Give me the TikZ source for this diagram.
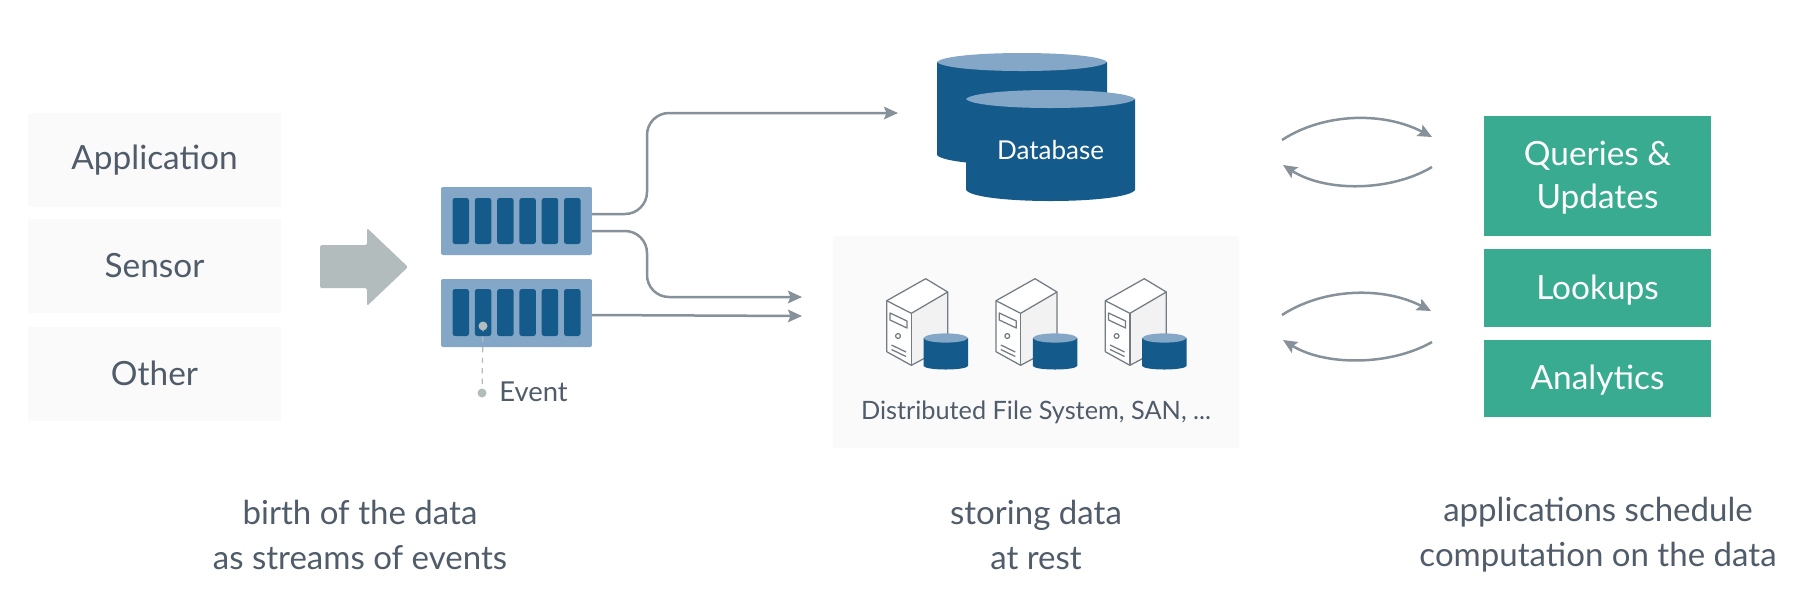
\documentclass[tikz,border=0pt]{standalone}
\usepackage{fontspec}
\setmainfont{Lato}
\usetikzlibrary{arrows.meta,calc}
\definecolor{paneltint}{HTML}{FAFAFB}
\definecolor{inktext}{HTML}{505C69}
\definecolor{dbdark}{HTML}{145B8B}
\definecolor{dblight}{HTML}{84A7C8}
\definecolor{fatgrey}{HTML}{B3BCBC}
\definecolor{flowgrey}{HTML}{87919A}
\definecolor{appgreen}{HTML}{38AB90}
\tikzset{
	srcbox/.style={fill=paneltint,inner sep=0pt,minimum width=5.06cm,minimum height=1.88cm,text=inktext,font=\fontsize{19}{23}\selectfont},
	logbox/.style={fill=dblight,rounded corners=.04cm,inner sep=0pt,minimum width=3.02cm,minimum height=1.36cm},
	slotbar/.style={fill=dbdark,rounded corners=.05cm},
	flow/.style={draw=flowgrey,line width=.05cm,-{Stealth[length=.28cm,width=.25cm,inset=.05cm]}},
	appbox/.style={fill=appgreen,inner sep=0pt,minimum width=4.54cm,text=white,align=center,font=\fontsize{19}{24.5}\selectfont},
	caption/.style={text=inktext,align=center,font=\fontsize{18.8}{25.5}\selectfont},
	towerline/.style={draw=flowgrey!85!black,line width=.025cm,line join=round}
}
\newcommand{\lowered}[1]{\raisebox{-1pt}[\height][\depth]{#1}}
% x1, x2, y of the top, y of the side ends, y of the lowest point
\newcommand{\drumshape}[5]{%
	\pgfmathsetmacro{\xa}{#1+(#2-#1)*.06}
	\pgfmathsetmacro{\xb}{#2-(#2-#1)*.06}
	\pgfmathsetmacro{\ry}{(#5-#4)*4/3}
	\pgfmathsetmacro{\yl}{#4+\ry}
	\fill[dbdark] (#1,#3) -- (#1,#4) .. controls (\xa,\yl) and (\xb,\yl) .. (#2,#4) -- (#2,#3) -- cycle;
}
\newcommand{\drumlid}[4]{% x1, x2, y of the lid, half height of the lid
	\pgfmathsetmacro{\xa}{#1+(#2-#1)*.06}
	\pgfmathsetmacro{\xb}{#2-(#2-#1)*.06}
	\pgfmathsetmacro{\yu}{#3-#4*4/3}
	\pgfmathsetmacro{\yd}{#3+#4*4/3}
	\fill[dblight] (#1,#3) .. controls (\xa,\yu) and (\xb,\yu) .. (#2,#3) .. controls (\xb,\yd) and (\xa,\yd) .. (#1,#3) -- cycle;
}
\begin{document}
\begin{tikzpicture}[x=.02cm,y=-.02cm]
	\useasboundingbox (0,0) rectangle (1806,610);
	% sources
	\node[srcbox] (app) at (154.5,160) {Application};
	\node[srcbox] (sensor) at (154.5,266) {Sensor};
	\node[srcbox] (other) at (154.5,373.5) {Other};
	\fill[fatgrey,rounded corners=.03cm] (320,245) -- (367,245) -- (367,228) -- (408,267) -- (367,306) -- (367,288) -- (320,288) -- cycle;
	% event logs
	\node[logbox] (logA) at (516.5,221) {};
	\node[logbox] (logB) at (516.5,313) {};
	\foreach \x in {452.5,474.8,497.1,519.4,541.7,564} {
		\fill[slotbar] (\x,198) rectangle (\x+16.5,244);
		\fill[slotbar] (\x,289) rectangle (\x+16.5,336);
	}
	\coordinate (dot) at (483,326);
	\coordinate (eventdot) at (482,393);
	\draw[fatgrey,line width=.025cm,dashed] (dot) -- (eventdot);
	\fill[fatgrey] (dot) circle (4.5);
	\fill[fatgrey] (eventdot) circle (4.5);
	\node[anchor=west,inner sep=0pt,text=inktext,font=\fontsize{15.6}{18}\selectfont] (event) at (499,392) {Event};
	% connectors
	\coordinate (outA) at (592,214);
	\coordinate (outB) at (592,231);
	\coordinate (outC) at (592,315);
	\coordinate (toDb) at (898,113);
	\coordinate (toDfsA) at (802,297);
	\coordinate (toDfsB) at (802,316);
	\draw[flow,rounded corners=.44cm] (outA) -| (647,113) -- (toDb);
	\draw[flow,rounded corners=.44cm] (outB) -| (647,297) -- (toDfsA);
	\draw[flow] (outC) -- (toDfsB);
	% database
	\drumshape{937}{1107}{62}{155}{165}
	\drumlid{937}{1107}{62}{9}
	\drumshape{966}{1135}{99}{190}{201}
	\drumlid{966}{1135}{99}{9}
	\node[text=white,inner sep=0pt,font=\fontsize{14.8}{18}\selectfont] (db) at (1050.5,150.5) {Database};
	% file system panel
	\node[fill=paneltint,inner sep=0pt,minimum width=8.12cm,minimum height=4.24cm] (dfs) at (1036,342) {};
	\foreach \dx in {0,109.3,218.6} {
		\begin{scope}[xshift=\dx*.02cm]
			\fill[white] (886.7,300.7) -- (925.7,278.7) -- (947.7,292) -- (911.3,313.3) -- cycle;
			\fill[white] (886.7,300.7) -- (911.3,313.3) -- (911.3,365.3) -- (886.7,351.7) -- cycle;
			\fill[black!5] (911.3,313.3) -- (947.7,292) -- (947.7,346) -- (911.3,365.3) -- cycle;
			\draw[towerline] (886.7,300.7) -- (925.7,278.7) -- (947.7,292) -- (947.7,346) -- (911.3,365.3) -- (886.7,351.7) -- cycle;
			\draw[towerline] (886.7,300.7) -- (911.3,313.3) -- (947.7,292);
			\draw[towerline] (911.3,313.3) -- (911.3,365.3);
			\draw[towerline] (890,313) -- (907,321) -- (907,328) -- (890,320) -- cycle;
			\draw[towerline] (898,336) circle (2.4);
			\draw[towerline] (891.5,345) -- (906,352);
			\draw[towerline] (891.5,349.5) -- (906,356.5);
			\drumshape{923.5}{968}{338}{366}{369.5}
			\drumlid{923.5}{968}{338}{4.6}
		\end{scope}
	}
	\node[inner sep=0pt,text=inktext,font=\fontsize{14.4}{17}\selectfont] (dfslabel) at (1036,412.5) {Distributed File System, SAN, ...};
	% exchange arrows
	\coordinate (qLeftUp) at (1282,140);
	\coordinate (qRightUp) at (1432,137);
	\coordinate (qLeftDn) at (1283,165);
	\coordinate (qRightDn) at (1432,167);
	\coordinate (lLeftUp) at (1282,315);
	\coordinate (lRightUp) at (1431,311);
	\coordinate (lLeftDn) at (1283,340);
	\coordinate (lRightDn) at (1432,342);
	\draw[flow] (qLeftUp) .. controls (1325,112) and (1385,112) .. (qRightUp);
	\draw[flow] (qRightDn) .. controls (1390,192) and (1325,192) .. (qLeftDn);
	\draw[flow] (lLeftUp) .. controls (1325,287) and (1385,287) .. (lRightUp);
	\draw[flow] (lRightDn) .. controls (1390,366) and (1325,366) .. (lLeftDn);
	% applications
	\node[appbox,minimum height=2.4cm] (queries) at (1597.5,176) {\lowered{Queries \&}\\\lowered{Updates}};
	\node[appbox,minimum height=1.56cm] (lookups) at (1597.5,288) {\lowered{Lookups}};
	\node[appbox,minimum height=1.54cm] (analytics) at (1597.5,378.5) {\lowered{Analytics}};
	% captions
	\node[caption] (capA) at (360,535) {birth of the data\\as streams of events};
	\node[caption] (capB) at (1036,535) {storing data\\at rest};
	\node[caption] (capC) at (1598,535) {applications schedule\\computation on the data};
\end{tikzpicture}
\end{document}
